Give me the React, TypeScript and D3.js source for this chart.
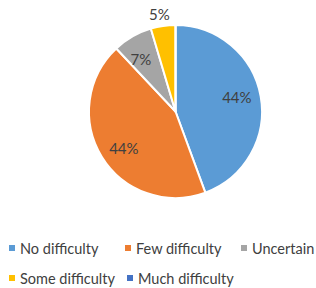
import React from "react";
import * as d3 from "d3";

const categories = ["No difficulty", "Few difficulty", "Uncertain", "Some difficulty", "Much difficulty"];
const values = [44.4, 43.6, 7.4, 4.6, 0];
const colors = ["#5B9BD5", "#ED7D31", "#A5A5A5", "#FFC000", "#4472C4"];

const W = 316, H = 288;
const cx = 175.5, cy = 111.5, R = 86.5;
const FONT = "Lato, 'Open Sans', sans-serif";

export default function App() {
  const pie = d3.pie<number>().sort(null).value((d) => d)(values);
  const arc = d3.arc<d3.PieArcDatum<number>>().innerRadius(0).outerRadius(R);
  const total = d3.sum(values);
  const legendPos = [
    [9, 248], [125, 248], [241, 248], [9, 278], [127, 278],
  ];
  return (
    <svg width={W} height={H} style={{ position: "absolute", left: 0, top: 0, background: "#fff" }}>
      <g transform={`translate(${cx},${cy})`}>
        {pie.map((p, i) => (
          <path key={i} d={arc(p) || ""} fill={colors[i]} stroke="#fff" strokeWidth={2} strokeLinejoin="round" />
        ))}
        {pie.map((p, i) => {
          if (values[i] <= 0) return null;
          const outside = values[i] / total < 0.06;
          const mid = (p.startAngle + p.endAngle) / 2 - (outside ? 0.02 : 0.06);
          const r = outside ? R + 12 : R * 0.73;
          const x = Math.sin(mid) * r;
          const y = -Math.cos(mid) * r;
          return (
            <text key={i} x={x} y={y} textAnchor="middle" dominantBaseline="central"
              fontFamily={FONT} fontSize={15} fill="#404040">
              {Math.round((values[i] / total) * 100)}%
            </text>
          );
        })}
      </g>
      {categories.map((c, i) => (
        <g key={c} transform={`translate(${legendPos[i][0]},${legendPos[i][1]})`}>
          <rect x={0} y={-3} width={6} height={6} fill={colors[i]} />
          <text x={11} y={0} dominantBaseline="central" fontFamily={FONT} fontSize={14.5} fill="#404040">{c}</text>
        </g>
      ))}
    </svg>
  );
}
